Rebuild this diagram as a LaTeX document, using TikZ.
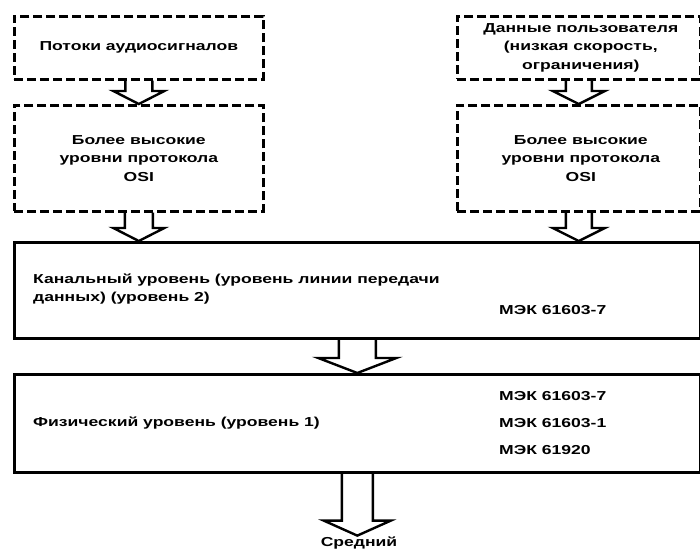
\documentclass[tikz,border=0pt]{standalone}
\usepackage{fontspec}
\setmainfont{Liberation Sans}[FakeStretch=1.35]
\usetikzlibrary{calc}
\tikzset{
  dbox/.style={draw, line width=2.6pt, dash pattern=on 9pt off 4pt, rectangle, anchor=north west, inner sep=0pt, align=center},
  sbox/.style={draw, line width=2.6pt, rectangle, anchor=north west, inner sep=0pt},
  txt/.style={font=\fontsize{13}{18.5}\selectfont\bfseries, inner sep=0pt},
  harrowline/.style={draw, line width=2.4pt, line join=miter},
}
\newcommand\harrow[5]{%
  \draw[harrowline] let \p1=(#1), \p2=(#2) in
    (\x1-#3pt,\y1) -- (\x1-#3pt,\y2+#5pt) -- (\x1-#4pt,\y2+#5pt) -- (\x1,\y2)
    -- (\x1+#4pt,\y2+#5pt) -- (\x1+#3pt,\y2+#5pt) -- (\x1+#3pt,\y1);
}
\begin{document}
\begin{tikzpicture}[x=1pt,y=-1pt]
\useasboundingbox (0,0) rectangle (700,552);
% dashed boxes
\node[dbox, minimum width=249pt, minimum height=63pt] (A) at (13,15) {};
\node[txt] (At) at (A.center) {Потоки аудиосигналов};
\node[dbox, minimum width=243pt, minimum height=63pt] (B) at (456,15) {};
\node[txt, align=center] (Bt) at ($(B.center)+(2,0)$) {Данные пользователя\\(низкая скорость,\\ограничения)};
\node[dbox, minimum width=249pt, minimum height=106pt] (C) at (13,104) {};
\node[txt, align=center] (Ct) at (C.center) {Более высокие\\уровни протокола\\OSI};
\node[dbox, minimum width=243pt, minimum height=106pt] (D) at (456,104) {};
\node[txt, align=center] (Dt) at ($(D.center)+(2,0)$) {Более высокие\\уровни протокола\\OSI};
% solid boxes
\node[sbox, minimum width=686pt, minimum height=96pt] (L2) at (13,241) {};
\node[txt, align=left, anchor=west] (L2t) at (33,289) {Канальный уровень (уровень линии передачи\\данных) (уровень 2)};
\node[txt, anchor=west] (L2s) at (499,310) {МЭК 61603-7};
\node[sbox, minimum width=686pt, minimum height=98pt] (L1) at (13,373) {};
\node[txt, anchor=west] (L1t) at (33,423) {Физический уровень (уровень 1)};
\node[txt, anchor=west] (L1a) at (499,396) {МЭК 61603-7};
\node[txt, anchor=west] (L1b) at (499,423) {МЭК 61603-1};
\node[txt, anchor=west] (L1c) at (499,450) {МЭК 61920};
\node[txt, inner sep=1pt] (S) at (359,543) {Средний};
% hollow arrows
\harrow{A.south}{C.north}{13.5}{25.5}{13}
\harrow{B.south}{D.north}{13}{26}{13}
\harrow{C.south}{L2.north}{14}{25.5}{13}
\harrow{D.south}{L2.north}{13}{26}{13}
\harrow{L2.south}{L1.north}{18.5}{39}{15}
\harrow{L1.south}{S.north}{15.5}{33.5}{15}
\end{tikzpicture}
\end{document}
